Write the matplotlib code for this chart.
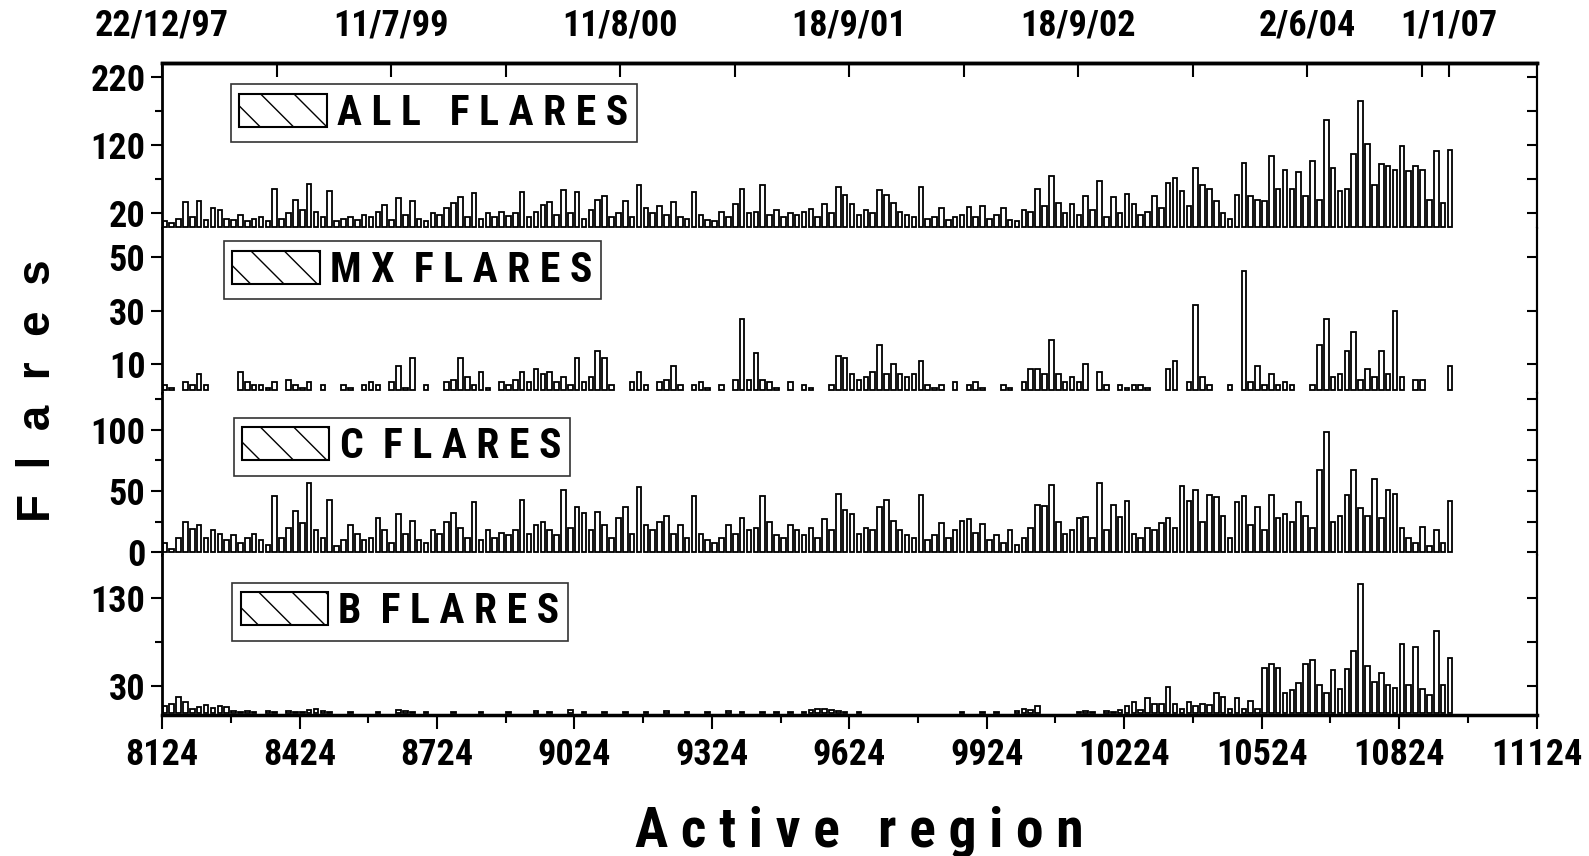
import numpy as np
import matplotlib
matplotlib.use('Agg')
import matplotlib.pyplot as plt
from matplotlib.patches import Patch

narrow = ['Liberation Sans Narrow', 'Roboto Condensed', 'Open Sans Condensed',
          'IBM Plex Sans Condensed', 'DejaVu Sans']
wide = ['Liberation Sans', 'DejaVu Sans']
plt.rcParams['font.family'] = narrow
plt.rcParams['font.weight'] = 'bold'
plt.rcParams['hatch.linewidth'] = 1.0

# active region numbers (one bar every 15 regions)
regions = np.arange(8130, 10936, 15)

all_flares = [
    8, 5, 12, 37, 15, 38, 10, 28, 24, 12,
    10, 18, 8, 12, 15, 9, 55, 12, 20, 39,
    25, 63, 22, 15, 53, 8, 12, 14, 10, 18,
    15, 22, 32, 10, 42, 18, 38, 12, 8, 20,
    18, 28, 35, 44, 15, 50, 12, 20, 14, 22,
    16, 20, 51, 14, 22, 32, 36, 18, 54, 20,
    51, 12, 25, 39, 45, 14, 20, 38, 15, 61,
    27, 20, 31, 18, 37, 15, 12, 51, 18, 10,
    8, 22, 15, 34, 55, 20, 22, 61, 18, 25,
    15, 20, 18, 22, 26, 15, 34, 20, 58, 47,
    33, 18, 25, 20, 54, 47, 35, 22, 18, 15,
    59, 12, 15, 28, 10, 14, 18, 29, 15, 30,
    12, 18, 27, 10, 8, 25, 22, 55, 30, 74,
    35, 20, 34, 18, 45, 25, 68, 15, 44, 20,
    48, 33, 18, 22, 45, 28, 64, 72, 52, 30,
    86, 62, 55, 38, 20, 12, 47, 94, 45, 40,
    38, 104, 55, 83, 55, 80, 45, 96, 40, 157,
    86, 52, 55, 107, 184, 121, 62, 92, 89, 84,
    119, 82, 90, 84, 40, 111, 35, 113]

mx_flares = [
    2, 1, 0, 3, 2, 6, 2, 0, 0, 0,
    0, 7, 3, 2, 2, 1, 3, 0, 4, 2,
    1, 3, 0, 2, 0, 0, 2, 1, 0, 2,
    3, 2, 0, 3, 9, 1, 12, 0, 2, 0,
    0, 3, 4, 12, 5, 2, 7, 1, 0, 3,
    2, 4, 7, 3, 8, 6, 7, 3, 5, 2,
    12, 3, 5, 15, 12, 2, 0, 0, 3, 7,
    2, 0, 3, 4, 9, 2, 0, 2, 3, 1,
    0, 2, 0, 4, 27, 4, 14, 4, 3, 1,
    0, 3, 0, 2, 1, 0, 0, 2, 13, 12,
    6, 4, 5, 7, 17, 6, 10, 6, 5, 6,
    11, 2, 1, 2, 0, 3, 0, 2, 3, 1,
    0, 0, 2, 1, 0, 3, 8, 8, 6, 19,
    6, 3, 5, 3, 10, 0, 7, 2, 0, 2,
    1, 2, 2, 1, 0, 0, 8, 11, 0, 3,
    32, 5, 2, 0, 0, 2, 0, 45, 3, 9,
    2, 6, 2, 3, 2, 0, 0, 2, 17, 27,
    5, 6, 15, 22, 4, 8, 5, 15, 6, 30,
    5, 0, 4, 4, 0, 0, 0, 9]

c_flares = [
    8, 3, 12, 25, 19, 22, 12, 18, 15, 10,
    14, 8, 12, 15, 10, 6, 46, 12, 20, 34,
    24, 57, 18, 12, 43, 5, 10, 22, 15, 10,
    12, 28, 18, 8, 31, 15, 26, 10, 8, 18,
    15, 25, 32, 20, 12, 41, 10, 18, 12, 16,
    14, 18, 43, 15, 22, 25, 18, 14, 51, 20,
    37, 32, 18, 33, 22, 12, 28, 37, 15, 53,
    22, 18, 25, 30, 15, 22, 12, 46, 15, 10,
    8, 12, 22, 15, 28, 18, 20, 46, 25, 14,
    12, 22, 18, 14, 20, 12, 27, 18, 48, 35,
    31, 15, 20, 18, 37, 43, 26, 18, 14, 12,
    47, 10, 14, 24, 12, 18, 26, 27, 16, 23,
    10, 14, 8, 18, 6, 12, 20, 39, 38, 55,
    25, 15, 18, 28, 29, 12, 57, 18, 39, 29,
    42, 15, 12, 20, 18, 24, 28, 20, 54, 42,
    51, 25, 47, 45, 30, 12, 41, 46, 22, 37,
    18, 47, 28, 31, 25, 41, 30, 20, 67, 98,
    25, 30, 47, 67, 36, 30, 60, 28, 51, 48,
    20, 12, 8, 21, 5, 18, 8, 42]

b_flares = [
    8, 10, 18, 12, 5, 7, 9, 6, 8, 7,
    2, 1, 2, 1, 0, 2, 1, 0, 2, 1,
    1, 3, 4, 2, 1, 0, 0, 1, 0, 0,
    0, 1, 0, 0, 3, 2, 1, 0, 1, 0,
    0, 0, 1, 0, 0, 0, 1, 0, 0, 0,
    1, 0, 0, 0, 2, 0, 1, 0, 0, 3,
    0, 1, 0, 0, 1, 0, 0, 1, 0, 0,
    1, 0, 0, 2, 0, 0, 1, 0, 0, 1,
    0, 0, 2, 0, 1, 0, 0, 1, 0, 1,
    0, 1, 0, 1, 3, 4, 5, 3, 2, 1,
    0, 1, 0, 0, 0, 0, 0, 0, 0, 0,
    0, 0, 0, 0, 0, 0, 1, 0, 0, 1,
    0, 1, 0, 0, 2, 5, 3, 8, 0, 0,
    0, 0, 0, 1, 2, 1, 0, 2, 1, 3,
    8, 12, 3, 17, 10, 10, 29, 10, 5, 12,
    8, 10, 9, 23, 18, 4, 17, 5, 14, 4,
    51, 55, 51, 22, 26, 34, 55, 60, 31, 22,
    48, 27, 50, 70, 145, 53, 35, 45, 31, 28,
    78, 32, 74, 27, 20, 92, 32, 62]

legend_labels = ['A L L   F L A R E S', 'M X  F L A R E S',
                 'C  F L A R E S', 'B  F L A R E S']

top_regions = [8124, 8624, 9124, 9624, 10124, 10624, 10933]
top_dates = ['22/12/97', '11/7/99', '11/8/00', '18/9/01', '18/9/02',
             '2/6/04', '1/1/07']
top_minor = [8374, 8874, 9374, 9874, 10374, 10874]

series = [all_flares, mx_flares, c_flares, b_flares]
ylims = [(-2, 240), (-1, 61), (-2, 130), (-2, 178)]
yticks = [[20, 120, 220], [10, 30, 50], [0, 50, 100], [30, 130]]
yminor = [[70, 170], [], [25, 75, 125], [80]]
leg_pos = [(0.050, 0.873), (0.045, 0.921), (0.052, 0.846), (0.051, 0.825)]

fig, axes = plt.subplots(4, 1, figsize=(15.89, 8.56), dpi=100, sharex=True,
                         gridspec_kw={'height_ratios': [165, 165, 162, 160],
                                      'hspace': 0})
fig.subplots_adjust(left=0.102, right=0.967, top=0.926, bottom=0.165)

for i, ax in enumerate(axes):
    vals = np.array(series[i])
    m = vals > 0
    ax.bar(regions[m], vals[m], width=10, facecolor='white',
           edgecolor='black', linewidth=1.3)
    ax.set_ylim(*ylims[i])
    ax.set_yticks(yticks[i])
    ax.set_yticks(yminor[i], minor=True)
    ax.tick_params(axis='y', which='major', direction='out', length=8,
                   width=1.5, labelsize=26, pad=4)
    ax.tick_params(axis='y', which='minor', direction='out', length=5,
                   width=1.5)
    right = ax.secondary_yaxis('right')
    right.set_yticks(yticks[i])
    right.set_yticks(yminor[i], minor=True)
    right.tick_params(which='both', direction='in', length=7, width=1.5,
                      labelright=False)
    right.spines['right'].set_linewidth(1.5)
    ax.spines['left'].set_linewidth(2)
    ax.spines['right'].set_linewidth(1.5)
    ax.spines['top'].set_visible(i == 0)
    ax.spines['bottom'].set_visible(i == 3)
    ax.spines['top'].set_linewidth(2.5)
    ax.spines['bottom'].set_linewidth(2.5)
    if i < 3:
        ax.tick_params(axis='x', which='both', bottom=False,
                       labelbottom=False)

    handle = Patch(facecolor='white', edgecolor='black', hatch='\\',
                   linewidth=1.5)
    leg = ax.legend([handle], [legend_labels[i]], loc='upper left',
                    bbox_to_anchor=leg_pos[i], frameon=True, fancybox=False,
                    edgecolor='#333333', framealpha=1, handlelength=2.1,
                    handleheight=0.85, handletextpad=0.25, borderpad=0.2,
                    borderaxespad=0,
                    prop={'family': narrow, 'weight': 'bold', 'size': 30})
    leg.get_frame().set_linewidth(1.2)

ax = axes[3]
ax.set_xlim(8124, 11124)
ax.set_xticks(np.arange(8124, 11125, 300))
ax.set_xticks(np.arange(8274, 11124, 300), minor=True)
ax.tick_params(axis='x', which='major', direction='out', length=10,
               width=1.5, labelsize=26, pad=6)
ax.tick_params(axis='x', which='minor', direction='out', length=6,
               width=1.5)

top = axes[0].secondary_xaxis('top')
top.set_xticks(top_regions, labels=top_dates)
top.set_xticks(top_minor, minor=True)
top.tick_params(which='both', direction='in', length=10, width=1.5,
                labelsize=26, pad=14)
top.spines['top'].set_linewidth(2.5)

fig.text(0.541, 0.0105, 'A c t i v e   r e g i o n', ha='center',
         va='baseline', fontsize=40, family=narrow, weight='bold')
fig.text(0.0242, 0.544, 'F  l  a  r  e  s', rotation=90, ha='center',
         va='center', fontsize=33, family=wide, weight='bold')

plt.savefig('out.png', dpi=100)
plt.close()
